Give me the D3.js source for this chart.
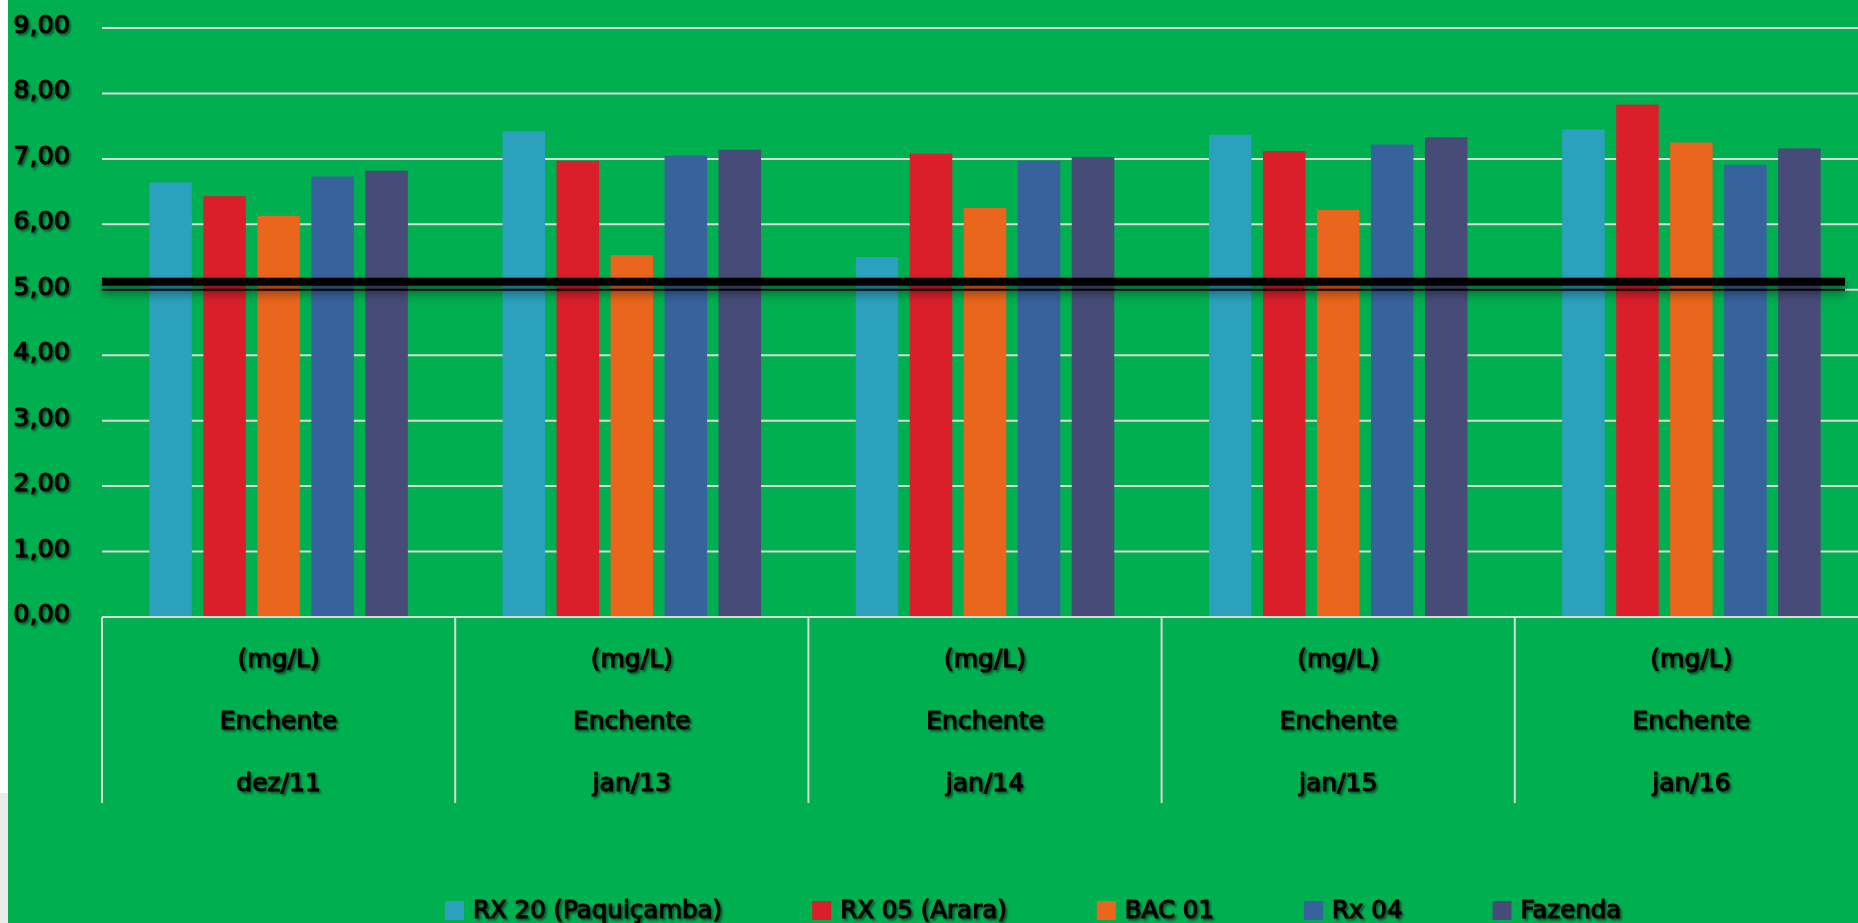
<!DOCTYPE html>
<html>
<head>
<meta charset="utf-8">
<script src="https://cdn.jsdelivr.net/npm/d3@7"></script>
<style>
  html, body { margin: 0; padding: 0; background: #ffffff; }
  svg { display: block; }
  text { font-family: "DejaVu Sans", sans-serif; font-weight: normal; fill: #000; stroke: #000; stroke-width: 1.2px; stroke-linejoin: round; }
</style>
</head>
<body>
<svg id="chart" width="1858" height="923"></svg>
<script>
// ---- data ----
const categories = ["dez/11", "jan/13", "jan/14", "jan/15", "jan/16"];
const unitLabels = ["(mg/L)", "(mg/L)", "(mg/L)", "(mg/L)", "(mg/L)"];
const seasonLabels = ["Enchente", "Enchente", "Enchente", "Enchente", "Enchente"];
const seriesNames = ["RX 20 (Paquiçamba)", "RX 05 (Arara)", "BAC 01", "Rx 04", "Fazenda"];
const rx20 = [6.64, 7.42, 5.50, 7.37, 7.45];
const rx05 = [6.43, 6.97, 7.08, 7.12, 7.83];
const bac01 = [6.13, 5.53, 6.25, 6.22, 7.25];
const rx04 = [6.73, 7.05, 6.97, 7.22, 6.91];
const fazenda = [6.82, 7.14, 7.03, 7.33, 7.16];
const yTicks = [0, 1, 2, 3, 4, 5, 6, 7, 8, 9];
const threshold = 5.0;

const seriesValues = [rx20, rx05, bac01, rx04, fazenda];
const colors = ["#2CA1BE", "#DA1F2A", "#EA661C", "#37629C", "#474B78"];

const W = 1858, H = 923;
const svg = d3.select("#chart");

// defs: shadows
const defs = svg.append("defs");
const ts = defs.append("filter").attr("id", "tshadow").attr("x", "-10%").attr("y", "-20%").attr("width", "130%").attr("height", "150%");
ts.append("feDropShadow").attr("dx", 2).attr("dy", 2).attr("stdDeviation", 1.2).attr("flood-color", "#000").attr("flood-opacity", 0.5);
const ls = defs.append("filter").attr("id", "lshadow").attr("x", "-5%").attr("y", "-200%").attr("width", "110%").attr("height", "600%");
ls.append("feDropShadow").attr("dx", 0).attr("dy", 5).attr("stdDeviation", 4).attr("flood-color", "#000").attr("flood-opacity", 0.45);

// background
svg.append("rect").attr("x", 0).attr("y", 0).attr("width", W).attr("height", H).attr("fill", "#ffffff");
svg.append("rect").attr("x", 0).attr("y", 793).attr("width", 8).attr("height", H - 793).attr("fill", "#ebebeb");
svg.append("rect").attr("x", 8).attr("y", 0).attr("width", W - 8).attr("height", H).attr("fill", "#00AF50");

// scales
const x = d3.scaleBand().domain(categories).range([102, 1868]).paddingInner(0).paddingOuter(0);
const xs = d3.scaleBand().domain(seriesNames).range([0, x.bandwidth()]).paddingInner(0.213).paddingOuter(0.877);
const y = d3.scaleLinear().domain([0, 9]).range([617, 28]);
const fmt = v => d3.format(".2f")(v).replace(".", ",");

// gridlines
svg.append("g").selectAll("line").data(yTicks.filter(d => d > 0)).join("line")
  .attr("x1", x.range()[0]).attr("x2", W)
  .attr("y1", d => y(d)).attr("y2", d => y(d))
  .attr("stroke", "#D9D9D9").attr("stroke-width", 2);

// y tick labels
svg.append("g").selectAll("text").data(yTicks).join("text")
  .attr("x", 70).attr("y", d => y(d) + 5)
  .attr("text-anchor", "end")
  .attr("font-size", 25.5)
  .attr("filter", "url(#tshadow)")
  .text(d => fmt(d));

// bars
const groups = svg.append("g").selectAll("g").data(categories).join("g")
  .attr("transform", d => `translate(${x(d)},0)`);
groups.selectAll("rect").data((c, ci) => seriesNames.map((s, si) => ({ s, si, v: seriesValues[si][ci] }))).join("rect")
  .attr("x", d => xs(d.s)).attr("width", xs.bandwidth())
  .attr("y", d => y(d.v)).attr("height", d => y(0) - y(d.v))
  .attr("fill", d => colors[d.si]);

// category axis box
const axisG = svg.append("g");
axisG.append("line").attr("x1", x.range()[0]).attr("x2", W).attr("y1", y(0)).attr("y2", y(0))
  .attr("stroke", "#D9D9D9").attr("stroke-width", 2);
axisG.selectAll("line.div").data(categories).join("line").attr("class", "div")
  .attr("x1", d => x(d)).attr("x2", d => x(d))
  .attr("y1", y(0)).attr("y2", 803)
  .attr("stroke", "#D9D9D9").attr("stroke-width", 2);

const labelRows = [unitLabels, seasonLabels, categories];
const rowY = [658, 720, 782];
labelRows.forEach((row, ri) => {
  axisG.append("g").selectAll("text").data(categories).join("text")
    .attr("x", d => x(d) + x.bandwidth() / 2)
    .attr("y", rowY[ri])
    .attr("dominant-baseline", "central")
    .attr("text-anchor", "middle")
    .attr("font-size", 25)
    .attr("filter", "url(#tshadow)")
    .text((d, i) => row[i]);
});

// threshold double line
const thG = svg.append("g").attr("filter", "url(#lshadow)");
const lx1 = x.range()[0], lx2 = x.range()[1] - 23;
thG.append("line").attr("x1", lx1).attr("x2", lx2).attr("y1", y(threshold) - 8).attr("y2", y(threshold) - 8)
  .attr("stroke", "#000").attr("stroke-width", 8);
thG.append("line").attr("x1", lx1).attr("x2", lx2).attr("y1", y(threshold)).attr("y2", y(threshold))
  .attr("stroke", "#000").attr("stroke-width", 2);

// legend
const leg = svg.append("g");
let lxPos = 445;
seriesNames.forEach((name, i) => {
  leg.append("rect").attr("x", lxPos).attr("y", 901).attr("width", 19).attr("height", 19).attr("fill", colors[i]);
  const t = leg.append("text").attr("x", lxPos + 28).attr("y", 918)
    .attr("font-size", 24.5).attr("filter", "url(#tshadow)").text(name);
  const w = t.node().getComputedTextLength();
  lxPos = lxPos + 28 + w + 90;
});
</script>
</body>
</html>
